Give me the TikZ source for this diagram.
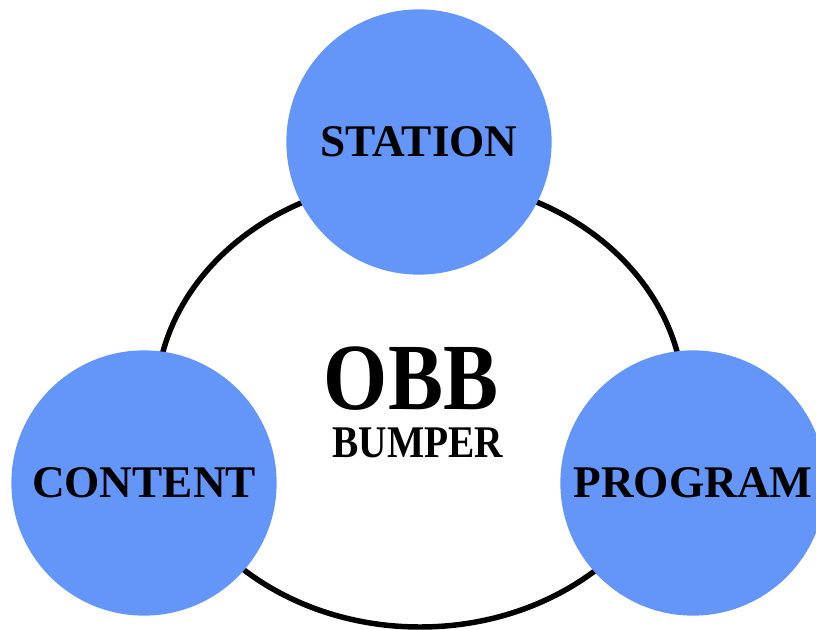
\documentclass[tikz,border=0pt]{standalone}
\usepackage{fontspec}
\setmainfont{Liberation Serif}
\newfontfamily\narrowserif[FakeStretch=0.87]{Liberation Serif}
\definecolor{ballblue}{RGB}{100,150,250}

\begin{document}
\begin{tikzpicture}[x=0.025cm,y=-0.025cm,
  ball/.style={circle,fill=ballblue,minimum size=6.63cm,inner sep=0pt,font=\bfseries\fontsize{32.2pt}{36pt}\selectfont},
  mid/.style={inner sep=0pt,text depth=0pt,font=\narrowserif\bfseries}]
  \clip(0,0)rectangle(816,630);
  \fill[white](0,0)rectangle(816,630);
  \draw[line width=3.9pt](420,403)ellipse[x radius=264,y radius=224];
  \node[ball](st)at(419,142){STATION};
  \node[ball](ct)at(144,483){CONTENT};
  \node[ball](pg)at(693,483){PROGRAM};
  \node[mid,font=\narrowserif\bfseries\fontsize{67.4pt}{70pt}\selectfont](obb)at(411,378){OBB};
  \node[mid,font=\narrowserif\bfseries\fontsize{32.2pt}{36pt}\selectfont](bu)at(418,443){BUMPER};
\end{tikzpicture}
\end{document}
